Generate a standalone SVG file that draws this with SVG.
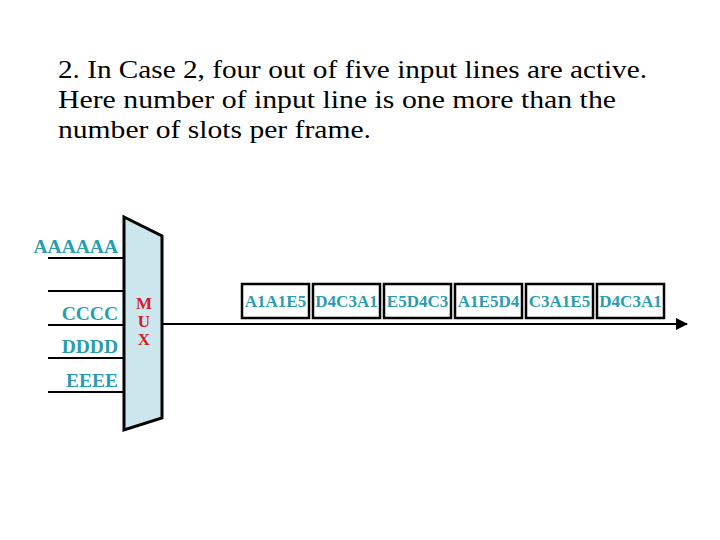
<svg xmlns="http://www.w3.org/2000/svg" width="720" height="540" viewBox="0 0 720 540">
<defs>
<style>
.title{font-family:"Liberation Serif",serif;font-size:26px;fill:#000}
.lbl{font-family:"Liberation Serif",serif;font-weight:bold;font-size:19.5px;fill:#2a9cb0}
.slot{font-family:"Liberation Serif",serif;font-weight:bold;font-size:17px;fill:#2a9cb0}
.mux{font-family:"Liberation Serif",serif;font-weight:bold;font-size:17px;fill:#d0202a}
.line{stroke:#000;stroke-width:2;fill:none}
.box{fill:#fff;stroke:#000;stroke-width:2.5}
</style>
<marker id="arr" markerWidth="12" markerHeight="12" refX="11" refY="6" orient="auto" markerUnits="userSpaceOnUse">
<path d="M0,0 L12,6 L0,12 Z" fill="#000"/>
</marker>
</defs>
<rect width="720" height="540" fill="#fff"/>
<g id="title">
<text class="title" x="58" y="78" textLength="589" lengthAdjust="spacingAndGlyphs">2. In Case 2, four out of five input lines are active.</text>
<text class="title" x="58" y="108" textLength="558" lengthAdjust="spacingAndGlyphs">Here number of input line is one more than the</text>
<text class="title" x="58" y="138" textLength="313" lengthAdjust="spacingAndGlyphs">number of slots per frame.</text>
</g>
<g id="connectors">
<line class="line" x1="48" y1="258" x2="124" y2="258"/>
<line class="line" x1="48" y1="291" x2="124" y2="291"/>
<line class="line" x1="48" y1="325" x2="124" y2="325"/>
<line class="line" x1="48" y1="358" x2="124" y2="358"/>
<line class="line" x1="48" y1="392" x2="124" y2="392"/>
<line class="line" x1="162" y1="324" x2="687" y2="324" marker-end="url(#arr)"/>
</g>
<g id="inputs">
<text class="lbl" x="118" y="253" text-anchor="end">AAAAAA</text>
<text class="lbl" x="118" y="320" text-anchor="end">CCCC</text>
<text class="lbl" x="118" y="353" text-anchor="end">DDDD</text>
<text class="lbl" x="118" y="387" text-anchor="end">EEEE</text>
</g>
<g id="mux">
<polygon points="124,217 162,236 162,418 124,430" fill="#cce6ee" stroke="#000" stroke-width="3" stroke-linejoin="miter"/>
<text class="mux" x="144" y="309" text-anchor="middle">M</text>
<text class="mux" x="144" y="327" text-anchor="middle">U</text>
<text class="mux" x="144" y="345" text-anchor="middle">X</text>
</g>
<g id="slots">
<g id="s1"><rect class="box" x="242" y="284" width="67" height="34"/><text class="slot" x="275.5" y="307" text-anchor="middle">A1A1E5</text></g>
<g id="s2"><rect class="box" x="313" y="284" width="67" height="34"/><text class="slot" x="346.5" y="307" text-anchor="middle">D4C3A1</text></g>
<g id="s3"><rect class="box" x="384" y="284" width="67" height="34"/><text class="slot" x="417.5" y="307" text-anchor="middle">E5D4C3</text></g>
<g id="s4"><rect class="box" x="455" y="284" width="67" height="34"/><text class="slot" x="488.5" y="307" text-anchor="middle">A1E5D4</text></g>
<g id="s5"><rect class="box" x="526" y="284" width="67" height="34"/><text class="slot" x="559.5" y="307" text-anchor="middle">C3A1E5</text></g>
<g id="s6"><rect class="box" x="597" y="284" width="67" height="34"/><text class="slot" x="630.5" y="307" text-anchor="middle">D4C3A1</text></g>
</g>
</svg>
